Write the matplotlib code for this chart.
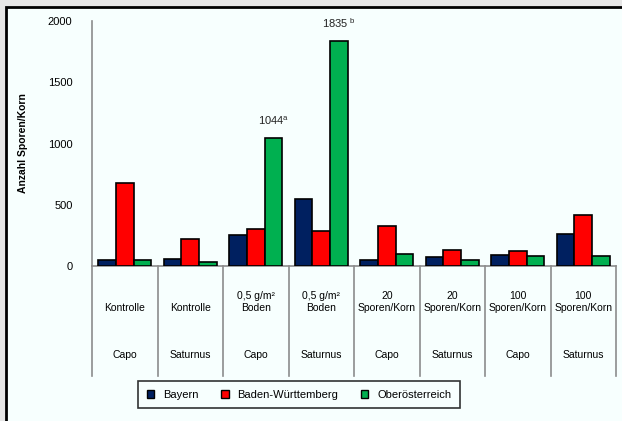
import matplotlib.pyplot as plt
import numpy as np
from matplotlib.patches import Patch, Rectangle

plt.rcParams["font.family"] = ["Liberation Sans", "DejaVu Sans"]
plt.rcParams["mathtext.default"] = "regular"

# Data
treatments = ["Kontrolle", "Kontrolle", "0,5 g/m²\nBoden", "0,5 g/m²\nBoden",
              "20\nSporen/Korn", "20\nSporen/Korn", "100\nSporen/Korn", "100\nSporen/Korn"]
varieties = ["Capo", "Saturnus", "Capo", "Saturnus", "Capo", "Saturnus", "Capo", "Saturnus"]
regions = ["Bayern", "Baden-Württemberg", "Oberösterreich"]
bayern = [45, 57, 256, 547, 51, 76, 87, 264]
baden_wuerttemberg = [675, 223, 302, 283, 329, 133, 120, 416]
oberoesterreich = [50, 33, 1044, 1835, 95, 46, 82, 84]
labels_green = {2: "1044$^{a}$", 3: "1835 $^{b}$"}

colors = ["#002060", "#FF0000", "#00B050"]
bg = "#F7FFFE"

fig = plt.figure(figsize=(6.22, 4.21), dpi=100)
fig.patch.set_facecolor("#E6E6E6")
# inner panel with black border (left/top visible)
panel = Rectangle((6 / 622, -0.05), 1.0, 1 - 7 / 421 + 0.05,
                  transform=fig.transFigure, facecolor=bg,
                  edgecolor="black", linewidth=2, zorder=-10)
fig.add_artist(panel)

ax = fig.add_axes([92 / 622, 155 / 421, 524 / 622, 245 / 421])
ax.set_zorder(1)
ax.set_facecolor(bg)

x = np.arange(len(treatments))
width = 0.27
series = [bayern, baden_wuerttemberg, oberoesterreich]
for i, vals in enumerate(series):
    ax.bar(x + (i - 1) * width, vals, width, color=colors[i],
           edgecolor="black", linewidth=1.2, zorder=3)

for idx, txt in labels_green.items():
    ax.text(x[idx] + width, oberoesterreich[idx] + 90, txt,
            ha="center", va="bottom", fontsize=8, color="#222222")

ax.set_xlim(-0.5, len(treatments) - 0.5)
ax.set_ylim(0, 2000)
ax.set_yticks(np.arange(0, 2001, 500))
ax.set_xticks([])
ax.tick_params(axis="y", length=0, pad=14, labelsize=8)
ax.set_ylabel("Anzahl Sporen/Korn", fontsize=7.5, fontweight="bold")
ax.yaxis.set_label_coords(-(92 - 28.5) / 524, 0.5)

for s in ["top", "right"]:
    ax.spines[s].set_visible(False)
ax.spines["left"].set_color("#8C8C8C")
ax.spines["bottom"].set_color("#8C8C8C")
ax.spines["left"].set_linewidth(1.2)
ax.spines["bottom"].set_linewidth(1.2)

# multi-level category axis
trans = ax.get_xaxis_transform()
for b in np.arange(len(treatments) + 1) - 0.5:
    ax.plot([b, b], [0, -0.449], transform=trans, color="#8C8C8C",
            linewidth=1.2, clip_on=False)
for i in range(len(treatments)):
    ax.text(x[i], -0.192, treatments[i], transform=trans, ha="center",
            va="bottom", fontsize=7.5, linespacing=1.25)
    ax.text(x[i], -0.363, varieties[i], transform=trans, ha="center",
            va="center", fontsize=7.5)

handles = [Patch(facecolor=c, edgecolor="black", linewidth=1) for c in colors]
leg = fig.legend(handles, regions, loc="center", ncol=3,
                 bbox_to_anchor=(299 / 622, 1 - 394.5 / 421), fontsize=8,
                 handlelength=0.7, handleheight=0.7, handletextpad=0.8,
                 columnspacing=2.0, fancybox=False, borderpad=0.8)
leg.get_frame().set_edgecolor("black")
leg.get_frame().set_linewidth(1.2)
leg.get_frame().set_facecolor(bg)

plt.savefig("out.png", dpi=100, facecolor=fig.get_facecolor())
